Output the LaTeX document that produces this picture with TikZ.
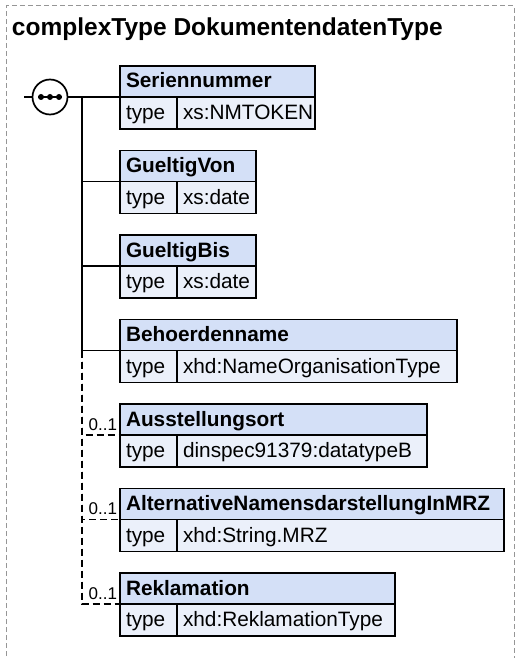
\documentclass[tikz,border=0pt]{standalone}
\usepackage{fontspec}
\setmainfont{Liberation Sans}
\usetikzlibrary{calc}

\definecolor{hdrfill}{RGB}{212,224,247}
\definecolor{rowfill}{RGB}{235,240,250}
\definecolor{framegray}{RGB}{150,150,150}

\begin{document}
\begin{tikzpicture}[x=1pt,y=-1pt,line width=1.7pt,every node/.style={outer sep=0pt},
	hdr/.style={draw,fill=hdrfill,anchor=north west,inner xsep=6pt,inner ysep=0pt,minimum height=31pt,text width=#1,align=left,text height=16pt,text depth=3pt,font=\fontsize{20.8}{24}\selectfont\bfseries},
	tcell/.style={draw,fill=rowfill,anchor=north west,inner xsep=6pt,inner ysep=0pt,minimum height=32pt,text width=45pt,align=left,text height=16pt,text depth=3pt,font=\fontsize{20.8}{24}\selectfont},
	vcell/.style={tcell,text width=#1},
	opt/.style={dash pattern=on 7pt off 4pt},
	mult/.style={anchor=base east,inner sep=0pt,xshift=-3pt,yshift=5pt,font=\fontsize{17}{20}\selectfont}]

		\useasboundingbox (0,0) rectangle (519,658);

		%the frame and its title
		\draw[framegray,line width=1pt,dash pattern=on 5pt off 3pt] (6,664) -- (6,6) -- (514,6) -- (514,664);
		\node[anchor=base west,inner sep=0pt,font=\fontsize{24.5}{28}\selectfont\bfseries] (title) at (12,36) {complexType DokumentendatenType};

		%the sequence compositor
		\node[circle,draw,fill=white,minimum size=35pt,inner sep=0pt] (seq) at (50,97) {};
		\draw[line width=1.4pt] ([xshift=-12pt]seq.center) -- ([xshift=12pt]seq.center);
		\foreach \dx in {-9,0,9} \fill ([xshift=\dx pt]seq.center) circle (3pt);
		\coordinate (in) at (24,97);
		\coordinate (bus) at (82,97);
		\draw (in) -- (seq.west);

		%the elements
		\node[hdr=183pt] (ser) at (120,66) {Seriennummer};
		\node[tcell] (sert) at (ser.south west) {type};
		\node[vcell=126pt] (serv) at (sert.north east) {xs:NMTOKEN};

		\node[hdr=124pt] (von) at ([yshift=-21.5pt]sert.south west) {GueltigVon};
		\node[tcell] (vont) at (von.south west) {type};
		\node[vcell=67pt] (vonv) at (vont.north east) {xs:date};

		\node[hdr=124pt] (bis) at ([yshift=-21.5pt]vont.south west) {GueltigBis};
		\node[tcell] (bist) at (bis.south west) {type};
		\node[vcell=67pt] (bisv) at (bist.north east) {xs:date};

		\node[hdr=325pt] (beh) at ([yshift=-21.5pt]bist.south west) {Behoerdenname};
		\node[tcell] (beht) at (beh.south west) {type};
		\node[vcell=268pt] (behv) at (beht.north east) {xhd:NameOrganisationType};

		\node[hdr=295pt] (aus) at ([yshift=-21.5pt]beht.south west) {Ausstellungsort};
		\node[tcell] (aust) at (aus.south west) {type};
		\node[vcell=238pt] (ausv) at (aust.north east) {dinspec91379:datatypeB};

		\node[hdr=372pt] (alt) at ([yshift=-21.5pt]aust.south west) {AlternativeNamensdarstellungInMRZ};
		\node[tcell] (altt) at (alt.south west) {type};
		\node[vcell=315pt] (altv) at (altt.north east) {xhd:String.MRZ};

		\node[hdr=263pt] (rek) at ([yshift=-21.5pt]altt.south west) {Reklamation};
		\node[tcell] (rekt) at (rek.south west) {type};
		\node[vcell=206pt] (rekv) at (rekt.north east) {xhd:ReklamationType};

		%the mandatory ones
		\draw (seq.east) -- (ser.south west);
		\draw (bus) |- (von.south west);
		\draw (bus) |- (bis.south west);
		\draw (bus) |- (beh.south west);

		%the optional ones
		\draw[opt] (bus |- beh.south west) |- (aus.south west) node[mult] (ausm) {0..1};
		\draw[opt] (bus |- beh.south west) |- (alt.south west) node[mult] (altm) {0..1};
		\draw[opt] (bus |- beh.south west) |- (rek.south west) node[mult] (rekm) {0..1};

	\end{tikzpicture}
\end{document}
